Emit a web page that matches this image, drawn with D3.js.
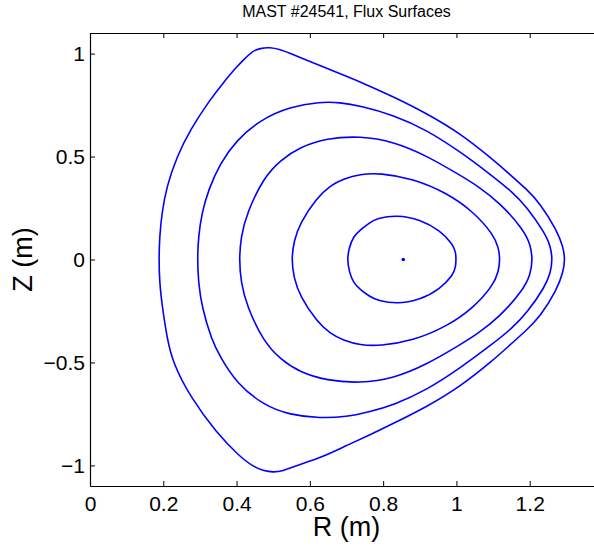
<!DOCTYPE html>
<html>
<head>
<meta charset="utf-8">
<script src="https://cdn.jsdelivr.net/npm/d3@7/dist/d3.min.js"></script>
<style>
  html, body { margin: 0; padding: 0; background: #fff; }
  svg { display: block; font-family: "Liberation Sans", Arial, Helvetica, sans-serif; }
</style>
</head>
<body>
<svg id="chart" width="594" height="548"></svg>
<script>
// MAST shot #24541 — poloidal flux surfaces, [R (m), Z (m)] points
const chartTitle = "MAST #24541, Flux Surfaces";
const xLabel = "R (m)";
const yLabel = "Z (m)";

const xTicks = [0, 0.2, 0.4, 0.6, 0.8, 1, 1.2];
const yTicks = [-1, -0.5, 0, 0.5, 1];

// Last closed flux surface
const surface1 = [
  [1.296, 0.000], [1.292, 0.058], [1.274, 0.143], [1.228, 0.273], [1.192, 0.341],
  [1.146, 0.413], [1.101, 0.483], [1.010, 0.613], [0.919, 0.709], [0.828, 0.790],
  [0.737, 0.864], [0.655, 0.922], [0.590, 0.969], [0.546, 1.002], [0.519, 1.020],
  [0.491, 1.031], [0.464, 1.026], [0.442, 1.010], [0.428, 0.985], [0.400, 0.936],
  [0.363, 0.857], [0.327, 0.775], [0.273, 0.629], [0.237, 0.499], [0.209, 0.354],
  [0.196, 0.224], [0.190, 0.112], [0.188, 0.000], [0.190, -0.112], [0.196, -0.213],
  [0.211, -0.391], [0.227, -0.504], [0.273, -0.666], [0.346, -0.844], [0.409, -0.958],
  [0.446, -1.006], [0.472, -1.026], [0.500, -1.034], [0.527, -1.027], [0.555, -1.006],
  [0.637, -0.958], [0.700, -0.903], [0.764, -0.852], [0.828, -0.796], [0.919, -0.715],
  [1.010, -0.618], [1.101, -0.488], [1.146, -0.415], [1.192, -0.342], [1.228, -0.278],
  [1.274, -0.148], [1.292, -0.058]
];

const surface2 = [
  [1.262, 0.000], [1.257, 0.063], [1.242, 0.127], [1.192, 0.256], [1.151, 0.330],
  [1.101, 0.402], [1.010, 0.524], [0.919, 0.629], [0.828, 0.702], [0.737, 0.746],
  [0.682, 0.763], [0.628, 0.766], [0.546, 0.742], [0.464, 0.678], [0.400, 0.580],
  [0.355, 0.467], [0.323, 0.338], [0.305, 0.224], [0.296, 0.112], [0.293, 0.000],
  [0.296, -0.112], [0.305, -0.229], [0.332, -0.391], [0.355, -0.472], [0.400, -0.601],
  [0.473, -0.707], [0.546, -0.755], [0.628, -0.771], [0.700, -0.764], [0.764, -0.739],
  [0.828, -0.707], [0.919, -0.634], [1.010, -0.528], [1.101, -0.407], [1.151, -0.335],
  [1.192, -0.261], [1.242, -0.132], [1.257, -0.063]
];

const surface3 = [
  [1.208, 0.000], [1.202, 0.073], [1.183, 0.145], [1.119, 0.275], [1.054, 0.362],
  [1.010, 0.409], [0.919, 0.504], [0.828, 0.573], [0.737, 0.600], [0.646, 0.589],
  [0.573, 0.546], [0.519, 0.482], [0.473, 0.395], [0.428, 0.225], [0.412, 0.112],
  [0.407, 0.000], [0.412, -0.112], [0.428, -0.226], [0.473, -0.397], [0.519, -0.484],
  [0.573, -0.548], [0.646, -0.588], [0.737, -0.601], [0.828, -0.578], [0.919, -0.510],
  [1.010, -0.414], [1.054, -0.366], [1.119, -0.277], [1.183, -0.146], [1.202, -0.073]
];

const surface4 = [
  [1.119, 0.000], [1.115, 0.058], [1.101, 0.121], [1.046, 0.233], [0.973, 0.324],
  [0.881, 0.393], [0.791, 0.420], [0.737, 0.415], [0.691, 0.391], [0.655, 0.359],
  [0.619, 0.299], [0.573, 0.177], [0.556, 0.087], [0.550, 0.000], [0.556, -0.087],
  [0.573, -0.179], [0.619, -0.300], [0.655, -0.360], [0.691, -0.392], [0.737, -0.416],
  [0.791, -0.420], [0.881, -0.395], [0.973, -0.326], [1.046, -0.236], [1.101, -0.124],
  [1.115, -0.058]
];

const surface5 = [
  [0.999, 0.000], [0.998, 0.035], [0.991, 0.073], [0.955, 0.141], [0.901, 0.194],
  [0.837, 0.217], [0.782, 0.199], [0.764, 0.180], [0.737, 0.143], [0.719, 0.112],
  [0.707, 0.058], [0.702, 0.000], [0.707, -0.058], [0.719, -0.114], [0.737, -0.146],
  [0.764, -0.180], [0.782, -0.197], [0.837, -0.217], [0.901, -0.196], [0.955, -0.144],
  [0.991, -0.076], [0.998, -0.035]
];

// Magnetic axis
const magneticAxis = [0.855, 0.000];

const surfaces = [surface1, surface2, surface3, surface4, surface5];

const svg = d3.select("#chart");
const width = 594, height = 548;
svg.append("rect").attr("width", width).attr("height", height).attr("fill", "#fff");

const plot = { left: 90, right: 603, top: 33, bottom: 486 };

const x = d3.scaleLinear().domain([0, 1.4]).range([plot.left, plot.right]);
const y = d3.scaleLinear().domain([-1.1, 1.1]).range([plot.bottom, plot.top]);

const fmt = v => (v < 0 ? "\u2212" : "") + String(Math.abs(v));

// Flux surfaces: smooth closed B-spline through the traced points
const line = d3.line()
  .x(d => x(d[0]))
  .y(d => y(d[1]))
  .curve(d3.curveBasisClosed);

svg.append("g")
  .selectAll("path")
  .data(surfaces)
  .join("path")
  .attr("d", line)
  .attr("fill", "none")
  .attr("stroke", "#0000ff")
  .attr("stroke-width", 1.6)
  .attr("stroke-linejoin", "round");

svg.append("circle")
  .attr("cx", x(magneticAxis[0]))
  .attr("cy", y(magneticAxis[1]))
  .attr("r", 1.8)
  .attr("fill", "#0000ff");

// Axes box with inward ticks
const tickLen = 5;
const styleAxis = g => {
  g.selectAll(".domain").attr("stroke", "#000").attr("stroke-width", 1.2);
  g.selectAll(".tick line").attr("stroke", "#000").attr("stroke-width", 1);
};

svg.append("g")
  .attr("transform", `translate(0,${plot.bottom})`)
  .call(d3.axisBottom(x).tickValues(xTicks).tickFormat(fmt)
    .tickSizeInner(-tickLen).tickSizeOuter(0).tickPadding(10))
  .call(styleAxis)
  .call(g => g.selectAll("text").attr("font-size", 21).attr("fill", "#000")
    .attr("font-family", "Liberation Sans, Arial, sans-serif"));

svg.append("g")
  .attr("transform", `translate(0,${plot.top})`)
  .call(d3.axisTop(x).tickValues(xTicks).tickFormat("")
    .tickSizeInner(-tickLen).tickSizeOuter(0))
  .call(styleAxis);

svg.append("g")
  .attr("transform", `translate(${plot.left},0)`)
  .call(d3.axisLeft(y).tickValues(yTicks).tickFormat(fmt)
    .tickSizeInner(-tickLen).tickSizeOuter(0).tickPadding(5))
  .call(styleAxis)
  .call(g => g.selectAll("text").attr("font-size", 21).attr("fill", "#000")
    .attr("font-family", "Liberation Sans, Arial, sans-serif"));

svg.append("g")
  .attr("transform", `translate(${plot.right},0)`)
  .call(d3.axisRight(y).tickValues(yTicks).tickFormat("")
    .tickSizeInner(-tickLen).tickSizeOuter(0))
  .call(styleAxis);

// Title and axis labels
const cx = (plot.left + plot.right) / 2;
svg.append("text")
  .attr("x", cx).attr("y", 17)
  .attr("text-anchor", "middle")
  .attr("font-size", 16)
  .attr("fill", "#000")
  .text(chartTitle);

svg.append("text")
  .attr("x", cx).attr("y", 536)
  .attr("text-anchor", "middle")
  .attr("font-size", 27)
  .attr("fill", "#000")
  .text(xLabel);

svg.append("text")
  .attr("transform", `translate(32,${(plot.top + plot.bottom) / 2}) rotate(-90)`)
  .attr("text-anchor", "middle")
  .attr("font-size", 27)
  .attr("fill", "#000")
  .text(yLabel);
</script>
</body>
</html>
